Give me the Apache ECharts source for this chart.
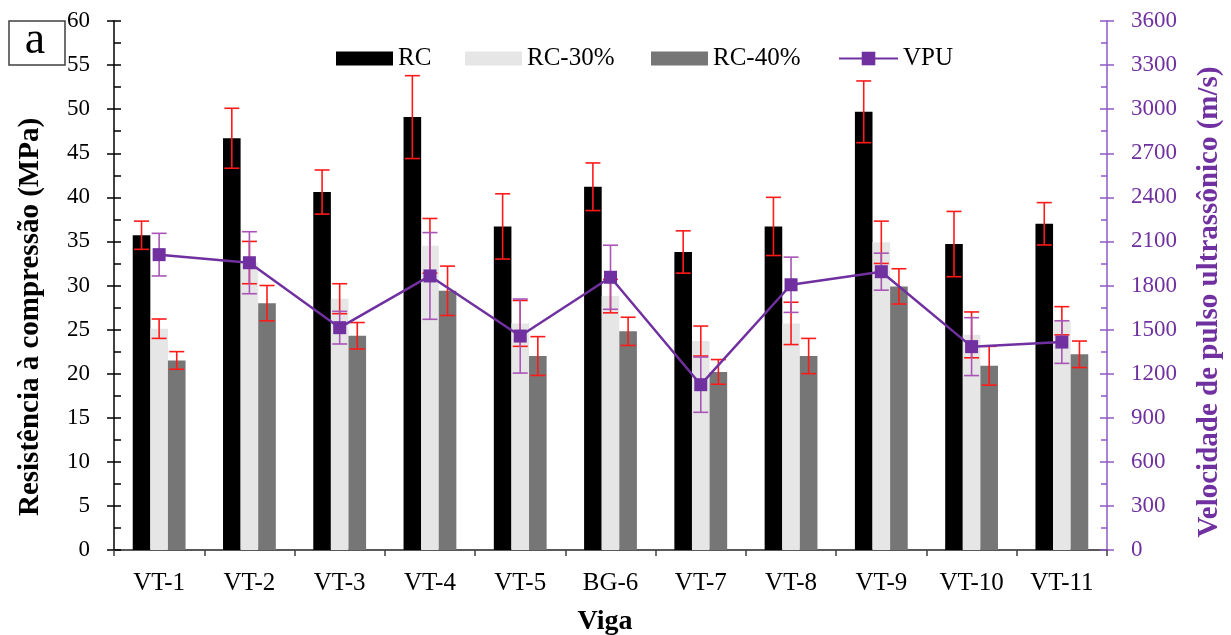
<!DOCTYPE html>
<html><head><meta charset="utf-8">
<script src="https://cdn.jsdelivr.net/npm/echarts@6/dist/echarts.min.js"></script>
<style>html,body{margin:0;padding:0;background:#fff}#c{width:1231px;height:635px}</style>
</head><body><div id="c"></div>
<script>
// ---- data ----
const categories = ['VT-1','VT-2','VT-3','VT-4','VT-5','BG-6','VT-7','VT-8','VT-9','VT-10','VT-11'];
const rc      = [35.7, 46.7, 40.6, 49.1, 36.7, 41.2, 33.8, 36.7, 49.7, 34.7, 37.0];
const rcErr   = [1.6, 3.4, 2.5, 4.7, 3.7, 2.7, 2.4, 3.3, 3.5, 3.7, 2.4];
const rc30    = [25.1, 32.6, 28.5, 34.5, 25.7, 28.8, 23.7, 25.7, 34.9, 24.4, 26.0];
const rc30Err = [1.1, 2.4, 1.7, 3.1, 2.6, 1.9, 1.7, 2.4, 2.4, 2.6, 1.6];
const rc40    = [21.5, 28.0, 24.3, 29.4, 22.0, 24.8, 20.2, 22.0, 29.9, 20.9, 22.2];
const rc40Err = [1.0, 2.0, 1.5, 2.8, 2.2, 1.6, 1.4, 2.0, 2.0, 2.2, 1.5];
const vpu     = [2010, 1955, 1513, 1865, 1456, 1856, 1125, 1805, 1894, 1384, 1415];
const vpuErr  = [145, 211, 111, 295, 252, 218, 188, 188, 126, 197, 145];
const leftMax = 60, leftStep = 5;
const rightMax = 3600, rightStep = 300;

const FONT = '"Liberation Serif", "Times New Roman", serif';
const PURPLE = '#7030a0';
const BAR_FRAC = 0.195;

function errRender(offsetIdx, color) {
  return function (params, api) {
    const cat = api.value(0), val = api.value(1), e = api.value(2);
    const bw = api.size([1, 0])[0] * BAR_FRAC;
    const x = api.coord([cat, val])[0] + offsetIdx * bw;
    const yHi = api.coord([cat, val + e])[1];
    const yLo = api.coord([cat, val - e])[1];
    const half = 7.5;
    const st = { stroke: color, lineWidth: 1.6 };
    return { type: 'group', children: [
      { type: 'line', shape: { x1: x, y1: yHi, x2: x, y2: yLo }, style: st },
      { type: 'line', shape: { x1: x - half, y1: yHi, x2: x + half, y2: yHi }, style: st },
      { type: 'line', shape: { x1: x - half, y1: yLo, x2: x + half, y2: yLo }, style: st }
    ]};
  };
}
function errData(vals, errs) { return vals.map((v, i) => [i, v, errs[i]]); }

const chart = echarts.init(document.getElementById('c'), null, { renderer: 'canvas' });
const legendText = { fontSize: 25, fontFamily: FONT, color: '#000' };
const option = {
  animation: false,
  backgroundColor: '#fff',
  grid: { left: 114, right: 124, top: 21, bottom: 85, containLabel: false },
  legend: [
    { data: ['RC'], left: 336, top: 46, padding: 0, itemWidth: 57, itemHeight: 14, icon: 'rect', textStyle: legendText },
    { data: ['RC-30%'], left: 465, top: 46, padding: 0, itemWidth: 57, itemHeight: 14, icon: 'rect', textStyle: legendText },
    { data: ['RC-40%'], left: 651, top: 46, padding: 0, itemWidth: 57, itemHeight: 14, icon: 'rect', textStyle: legendText },
    { data: ['VPU'], left: 838, top: 46, padding: 0, itemWidth: 59, itemHeight: 17, textStyle: legendText }
  ],
  xAxis: [
    { type: 'category', data: categories, position: 'bottom',
      axisLine: { lineStyle: { color: '#404040', width: 1.5 } },
      axisTick: { show: true, length: 6, lineStyle: { color: '#404040', width: 1.5 } },
      axisLabel: { fontSize: 25, fontFamily: FONT, color: '#000', margin: 21 },
      splitLine: { show: false } },
    { type: 'category', data: categories, position: 'bottom',
      axisLine: { show: false },
      axisTick: { show: true, alignWithLabel: true, inside: true, length: 6, lineStyle: { color: '#404040', width: 1.5 } },
      axisLabel: { show: false }, splitLine: { show: false } },
    { type: 'category', data: categories, position: 'top',
      axisLine: { lineStyle: { color: '#595959', width: 2 } },
      axisTick: { show: false }, axisLabel: { show: false }, splitLine: { show: false } }
  ],
  yAxis: [
    { type: 'value', position: 'left', offset: 0, min: 0, max: leftMax, interval: leftStep,
      axisLine: { show: true, lineStyle: { color: '#000', width: 1.5 } },
      axisTick: { show: true, length: 7, lineStyle: { color: '#000', width: 1.5 } },
      axisLabel: { fontSize: 23, fontFamily: FONT, color: '#000', margin: 24 },
      splitLine: { show: false } },
    { type: 'value', position: 'right', offset: 0, min: 0, max: rightMax, interval: rightStep,
      axisLine: { show: true, lineStyle: { color: '#8e5ac8', width: 1.5 } },
      axisTick: { show: true, length: 7, lineStyle: { color: '#8e5ac8', width: 1.5 } },
      axisLabel: { fontSize: 23, fontFamily: FONT, color: PURPLE, margin: 24,
                   formatter: v => String(v) },
      splitLine: { show: false } },
    { type: 'value', position: 'left', offset: 0, min: 0, max: leftMax, interval: leftStep,
      axisLine: { show: false },
      axisTick: { show: true, inside: true, length: 7, lineStyle: { color: '#000', width: 1.5 } },
      minorTick: { show: true, splitNumber: 2, length: 7, lineStyle: { color: '#000', width: 1.5 } },
      axisLabel: { show: false }, splitLine: { show: false } },
    { type: 'value', position: 'right', offset: 0, min: 0, max: rightMax, interval: rightStep,
      axisLine: { show: false },
      axisTick: { show: true, inside: true, length: 7, lineStyle: { color: '#8e5ac8', width: 1.5 } },
      minorTick: { show: true, splitNumber: 2, length: 6, lineStyle: { color: '#8e5ac8', width: 1.5 } },
      axisLabel: { show: false }, splitLine: { show: false } }
  ],
  series: [
    { name: 'RC', type: 'bar', data: rc, barWidth: (BAR_FRAC * 100) + '%', barGap: '0%', z: 2,
      itemStyle: { color: '#000000' } },
    { name: 'RC-30%', type: 'bar', data: rc30, barWidth: (BAR_FRAC * 100) + '%', barGap: '0%', z: 2,
      itemStyle: { color: '#e6e6e6' } },
    { name: 'RC-40%', type: 'bar', data: rc40, barWidth: (BAR_FRAC * 100) + '%', barGap: '0%', z: 2,
      itemStyle: { color: '#767676' } },
    { type: 'custom', name: 'errRC', data: errData(rc, rcErr), encode: { x: 0, y: 1 }, z: 3,
      renderItem: errRender(-1, '#ff1a1a') },
    { type: 'custom', name: 'errRC30', data: errData(rc30, rc30Err), encode: { x: 0, y: 1 }, z: 3,
      renderItem: errRender(0, '#ff1a1a') },
    { type: 'custom', name: 'errRC40', data: errData(rc40, rc40Err), encode: { x: 0, y: 1 }, z: 3,
      renderItem: errRender(1, '#ff1a1a') },
    { type: 'custom', name: 'errVPU', yAxisIndex: 1, data: errData(vpu, vpuErr), encode: { x: 0, y: 1 }, z: 4,
      renderItem: errRender(0, '#a855b5') },
    { name: 'VPU', type: 'line', yAxisIndex: 1, data: vpu, z: 5,
      symbol: 'rect', symbolSize: 13,
      lineStyle: { color: PURPLE, width: 2.5 },
      itemStyle: { color: PURPLE } }
  ],
  graphic: [
    { type: 'text', x: 31, y: 317, rotation: Math.PI / 2, z: 10,
      style: { text: 'Resistência à compressão (MPa)', font: 'bold 29px ' + FONT, fill: '#000',
               textAlign: 'center', textVerticalAlign: 'middle' } },
    { type: 'text', x: 1210, y: 302, rotation: Math.PI / 2, z: 10,
      style: { text: 'Velocidade de pulso ultrassônico (m/s)', font: 'bold 29px ' + FONT, fill: PURPLE,
               textAlign: 'center', textVerticalAlign: 'middle' } },
    { type: 'text', x: 605, y: 622, z: 10,
      style: { text: 'Viga', font: 'bold 28px ' + FONT, fill: '#000',
               textAlign: 'center', textVerticalAlign: 'middle' } },
    { type: 'rect', shape: { x: 9, y: 21, width: 56, height: 44 }, z: 10,
      style: { fill: '#fff', stroke: '#404040', lineWidth: 1.5 } },
    { type: 'text', x: 35, y: 41, z: 11,
      style: { text: 'a', font: '46px ' + FONT, fill: '#000',
               textAlign: 'center', textVerticalAlign: 'middle' } }
  ]
};
chart.setOption(option);
</script>
</body></html>
